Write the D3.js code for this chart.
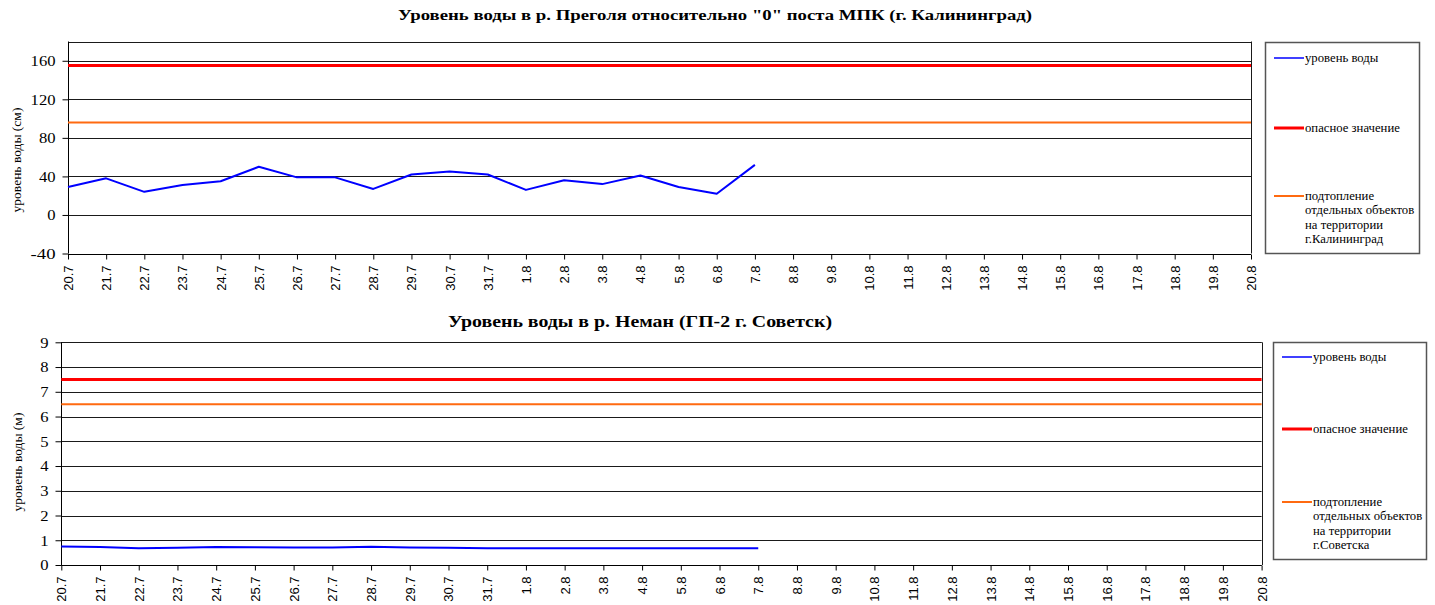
<!DOCTYPE html>
<html><head><meta charset="utf-8">
<script src="https://cdn.jsdelivr.net/npm/d3@7"></script>
<style>
html,body{margin:0;padding:0;background:#fff;}
svg{display:block;}
.serif{font-family:"Liberation Serif","DejaVu Serif","Times New Roman",serif;}
.sans{font-family:"Liberation Sans","Arimo",Arial,sans-serif;}
</style></head>
<body>
<svg id="chart" width="1435" height="605"></svg>
<script>
const dates = ["20.7","21.7","22.7","23.7","24.7","25.7","26.7","27.7","28.7","29.7","30.7","31.7",
  "1.8","2.8","3.8","4.8","5.8","6.8","7.8","8.8","9.8","10.8","11.8","12.8","13.8","14.8","15.8","16.8","17.8","18.8","19.8","20.8"];
const pregolyaLevel = [29, 38, 24, 31, 35, 50, 39, 39, 27, 42, 45, 42, 26, 36, 32, 41, 29, 22, 52];
const pregolyaDanger = 155;
const pregolyaFlood = 96;
const pregolyaTicks = [-40, 0, 40, 80, 120, 160];
const nemanLevel = [0.75, 0.73, 0.68, 0.70, 0.73, 0.72, 0.71, 0.71, 0.74, 0.71, 0.70, 0.68, 0.68, 0.68, 0.68, 0.68, 0.68, 0.68, 0.68];
const nemanDanger = 7.5;
const nemanFlood = 6.5;
const nemanTicks = [0, 1, 2, 3, 4, 5, 6, 7, 8, 9];

const svg = d3.select("#chart");
const BLUE = "#0000ff", RED = "#ff0000", ORANGE = "#ff6a10";

function drawChart(cfg) {
  const g = svg.append("g");
  const x = d3.scalePoint().domain(dates).range([cfg.left, cfg.right]);
  const y = d3.scaleLinear().domain(cfg.domain).range([cfg.bottom, cfg.top]);

  // title
  g.append("text").attr("class", "serif").attr("x", cfg.titleX).attr("y", cfg.titleY)
    .attr("text-anchor", "middle")
    .attr("font-weight", "bold").attr("font-size", cfg.titleSize).attr("fill", "#000")
    .attr("textLength", cfg.titleLen).attr("lengthAdjust", "spacingAndGlyphs")
    .text(cfg.title);

  // gridlines
  g.append("g").selectAll("line").data(cfg.ticks.concat([cfg.domain[1]])).join("line")
    .attr("x1", cfg.left).attr("x2", cfg.right)
    .attr("y1", d => Math.round(y(d)) + 0.5).attr("y2", d => Math.round(y(d)) + 0.5)
    .attr("stroke", "#1a1a1a").attr("stroke-width", 1);
  g.append("line").attr("x1", Math.round(cfg.right) + 0.5).attr("x2", Math.round(cfg.right) + 0.5)
    .attr("y1", cfg.top).attr("y2", cfg.bottom).attr("stroke", "#1a1a1a");

  // y axis
  const yAxis = d3.axisLeft(y).tickValues(cfg.ticks).tickSize(6).tickPadding(cfg.yPad).tickFormat(d => String(d));
  const ya = g.append("g").attr("transform", `translate(${Math.round(cfg.left) + 0.5},0)`).call(yAxis);
  ya.attr("font-family", null);
  ya.select(".domain").attr("stroke", "#000").attr("d", `M0,${cfg.top}V${cfg.bottom}`);
  ya.selectAll(".tick line").attr("stroke", "#000");
  ya.selectAll(".tick text").attr("class", "serif").attr("font-size", cfg.yFont).attr("fill", "#000")
    .attr("textLength", d => String(d).length * cfg.digitW).attr("lengthAdjust", "spacingAndGlyphs");

  // x axis
  const xAxis = d3.axisBottom(x).tickSize(5).tickPadding(0);
  const xa = g.append("g").attr("transform", `translate(0,${Math.round(cfg.bottom) + 0.5})`).call(xAxis);
  xa.attr("font-family", null);
  xa.select(".domain").attr("stroke", "#000").attr("d", `M${cfg.left},0H${cfg.right}`);
  xa.selectAll(".tick line").attr("stroke", "#000");
  xa.selectAll(".tick text").attr("class", "sans")
    .attr("font-size", 13).attr("fill", "#000")
    .attr("text-anchor", "end").attr("dy", null)
    .attr("transform", `translate(4.5,${cfg.xLabelOff}) rotate(-90)`)
    .attr("x", 0).attr("y", 0);

  // y label
  g.append("text").attr("class", "serif").attr("transform", `translate(${cfg.yLabelX},${cfg.yLabelY}) rotate(-90)`)
    .attr("text-anchor", "middle").attr("font-size", 13.5)
    .attr("fill", "#000").text(cfg.yLabel);

  // threshold lines across full x range
  const hline = (v, color, w) => g.append("line")
    .attr("x1", x(dates[0])).attr("x2", x(dates[dates.length - 1]))
    .attr("y1", y(v)).attr("y2", y(v)).attr("stroke", color).attr("stroke-width", w);
  hline(cfg.flood, ORANGE, 2);
  hline(cfg.danger, RED, 3);

  // water level line
  const line = d3.line().x((d, i) => x(dates[i])).y(d => y(d));
  g.append("path").datum(cfg.level).attr("d", line)
    .attr("fill", "none").attr("stroke", BLUE).attr("stroke-width", 2).attr("stroke-linejoin", "round");

  // legend
  const L = cfg.legend;
  g.append("rect").attr("x", L.x + 0.5).attr("y", L.y + 0.5).attr("width", L.w).attr("height", L.h)
    .attr("fill", "#fff").attr("stroke", "#555").attr("stroke-width", 1.5);
  const items = [
    {color: BLUE, w: 1.5, lines: ["уровень воды"], y: L.y1},
    {color: RED, w: 3, lines: ["опасное значение"], y: L.y2},
    {color: ORANGE, w: 2, lines: ["подтопление", "отдельных объектов", "на территории", cfg.city], y: L.y3}
  ];
  items.forEach(it => {
    g.append("line").attr("x1", L.x + 9).attr("x2", L.x + 39).attr("y1", it.y).attr("y2", it.y)
      .attr("stroke", it.color).attr("stroke-width", it.w);
    it.lines.forEach((s, i) => {
      g.append("text").attr("class", "serif").attr("font-size", 12).attr("fill", "#000")
        .attr("transform", `translate(${L.x + 40},${it.y + 4 + i * 14.3}) scale(1.06,1)`)
        .text(s);
    });
  });
}

drawChart({
  title: "Уровень воды в р. Преголя относительно \"0\" поста МПК (г. Калининград)",
  titleX: 715, titleY: 20, titleSize: 15.5, titleLen: 634,
  left: 68, right: 1251, top: 41.5, bottom: 253.5,
  domain: [-40, 180], ticks: pregolyaTicks, yFont: 15, digitW: 8.3, yPad: 7,
  level: pregolyaLevel, danger: pregolyaDanger, flood: pregolyaFlood,
  yLabel: "уровень воды (см)", yLabelX: 21, yLabelY: 160,
  xLabelOff: 11,
  city: "г.Калининград",
  legend: {x: 1265, y: 42, w: 154, h: 211, y1: 58, y2: 128, y3: 196}
});

drawChart({
  title: "Уровень воды в р. Неман (ГП-2 г. Советск)",
  titleX: 640, titleY: 327, titleSize: 17, titleLen: 384,
  left: 61.3, right: 1261.6, top: 342.3, bottom: 565,
  domain: [0, 9], ticks: nemanTicks, yFont: 15, digitW: 8.3, yPad: 7,
  level: nemanLevel, danger: nemanDanger, flood: nemanFlood,
  yLabel: "уровень воды (м)", yLabelX: 22, yLabelY: 462,
  xLabelOff: 11,
  city: "г.Советска",
  legend: {x: 1273, y: 342, w: 153, h: 217, y1: 357, y2: 429, y3: 502}
});
</script>
</body></html>
